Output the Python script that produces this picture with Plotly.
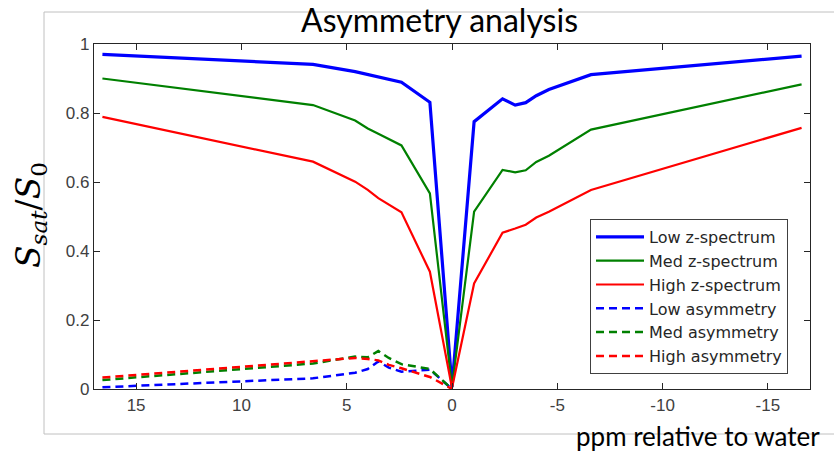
import plotly.graph_objects as go

# ---- data ----
ppm_pos = [16.6, 6.6, 4.6, 4.0, 3.5, 3.0, 2.4, 1.05, 0.0]
ppm = ppm_pos + [-1.05, -2.4, -3.0, -3.5, -4.0, -4.6, -6.6, -16.6]

low_z = [0.970, 0.941, 0.920, 0.912, 0.904, 0.897, 0.889, 0.831, 0.006,
         0.775, 0.841, 0.823, 0.830, 0.850, 0.868, 0.911, 0.965]
med_z = [0.900, 0.823, 0.778, 0.755, 0.740, 0.725, 0.706, 0.567, 0.006,
         0.514, 0.635, 0.628, 0.634, 0.658, 0.676, 0.752, 0.883]
high_z = [0.789, 0.659, 0.601, 0.577, 0.553, 0.535, 0.512, 0.340, 0.003,
          0.306, 0.453, 0.465, 0.476, 0.497, 0.514, 0.577, 0.757]

low_asym = [0.005, 0.031, 0.047, 0.058, 0.080, 0.062, 0.050, 0.056, 0.0]
med_asym = [0.026, 0.074, 0.094, 0.092, 0.110, 0.090, 0.072, 0.058, 0.0]
high_asym = [0.033, 0.080, 0.090, 0.087, 0.083, 0.070, 0.060, 0.035, 0.0]

x_ticks = [15, 10, 5, 0, -5, -10, -15]
x_ticklabels = ["15", "10", "5", "0", "-5", "-10", "-15"]
y_ticks = [0, 0.2, 0.4, 0.6, 0.8, 1]
y_ticklabels = ["0", "0.2", "0.4", "0.6", "0.8", "1"]

BLUE, GREEN, RED = "#0000ff", "#008000", "#ff0000"

fig = go.Figure()
fig.add_trace(go.Scatter(x=ppm, y=low_z, mode="lines", name="Low z-spectrum",
                         line=dict(color=BLUE, width=3.2)))
fig.add_trace(go.Scatter(x=ppm, y=med_z, mode="lines", name="Med z-spectrum",
                         line=dict(color=GREEN, width=2.2)))
fig.add_trace(go.Scatter(x=ppm, y=high_z, mode="lines", name="High z-spectrum",
                         line=dict(color=RED, width=2.2)))
fig.add_trace(go.Scatter(x=ppm_pos, y=low_asym, mode="lines", name="Low asymmetry",
                         line=dict(color=BLUE, width=2.5, dash="8px,5px")))
fig.add_trace(go.Scatter(x=ppm_pos, y=med_asym, mode="lines", name="Med asymmetry",
                         line=dict(color=GREEN, width=2.5, dash="8px,5px")))
fig.add_trace(go.Scatter(x=ppm_pos, y=high_asym, mode="lines", name="High asymmetry",
                         line=dict(color=RED, width=2.5, dash="8px,5px")))

L, R, T, B = 94, 24, 44, 65
W, H = 834, 454
pw, ph = W - L - R, H - T - B

def px_x(x):
    return (x - L) / pw

def px_y(y):
    return (H - B - y) / ph

axis_common = dict(showgrid=False, zeroline=False, showline=True, linecolor="#262626",
                   linewidth=1.2, mirror="ticks", ticks="inside", ticklen=6,
                   tickcolor="#262626",
                   tickfont=dict(family="Liberation Sans, Arial", size=17, color="#404040"))

fig.update_layout(
    width=W, height=H,
    margin=dict(l=L, r=R, t=T, b=B),
    paper_bgcolor="white", plot_bgcolor="white",
    showlegend=True,
    legend=dict(x=px_x(590), y=px_y(219), xanchor="left", yanchor="top",
                bgcolor="white", bordercolor="#404040", borderwidth=1,
                itemwidth=48,
                font=dict(family="DejaVu Sans, Liberation Sans", size=16, color="#262626")),
    xaxis=dict(range=[17, -17], tickvals=x_ticks, ticktext=x_ticklabels, **axis_common),
    yaxis=dict(range=[0, 1], tickvals=y_ticks, ticktext=y_ticklabels, **axis_common),
    shapes=[dict(type="rect", xref="paper", yref="paper",
                 x0=px_x(44), x1=px_x(840), y0=px_y(434), y1=px_y(12),
                 line=dict(color="#c0c0c0", width=1), fillcolor="rgba(0,0,0,0)", layer="below")],
    annotations=[
        dict(text="Asymmetry analysis", xref="paper", yref="paper",
             x=px_x(439), y=px_y(20), xanchor="center", yanchor="middle", showarrow=False,
             font=dict(family="Lato, Open Sans", size=32, color="black")),
        dict(text="ppm relative to water", xref="paper", yref="paper",
             x=px_x(822), y=px_y(436), xanchor="right", yanchor="middle", showarrow=False,
             font=dict(family="Lato, Open Sans", size=26, color="black")),
        dict(text="<i>S</i><sub><i>sat</i></sub>/<i>S</i><sub>0</sub>", xref="paper", yref="paper",
             x=px_x(30), y=px_y(215), xanchor="center", yanchor="middle", showarrow=False,
             textangle=-90,
             font=dict(family="DejaVu Serif, Liberation Serif", size=33, color="black")),
    ],
)

fig.write_html("out.html")
